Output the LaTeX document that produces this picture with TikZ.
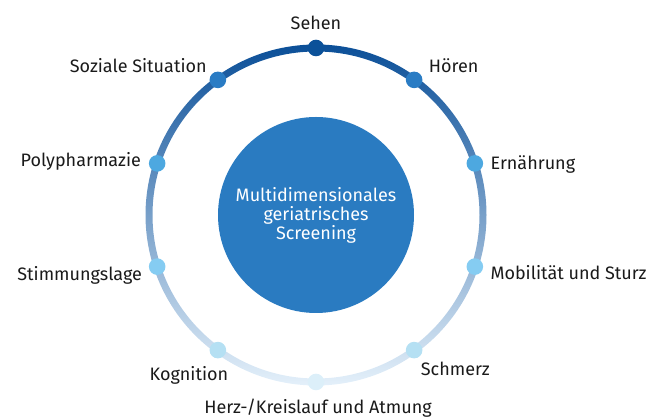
\documentclass[tikz,border=0pt]{standalone}
\usepackage{fontspec}
\setmainfont{Fira Sans}
\usetikzlibrary{positioning}
\definecolor{ringtop}{HTML}{0B4F98}
\definecolor{ringmid}{HTML}{7291C7}
\definecolor{ringbot}{HTML}{E4F0FA}
\definecolor{corefill}{HTML}{2A7BC1}
\definecolor{dotA}{HTML}{0B5199}
\definecolor{dotB}{HTML}{2A7CC4}
\definecolor{dotC}{HTML}{4DA8E0}
\definecolor{dotD}{HTML}{85CCF2}
\definecolor{dotE}{HTML}{B5E0F3}
\definecolor{dotF}{HTML}{DCEFF9}
\definecolor{txt}{HTML}{1A1A1A}
\tikzset{n/.style={inner sep=0, minimum size=16.6pt, circle},
  lbl/.style={inner sep=0, text=txt, font=\fontsize{18}{21}\selectfont}}

\begin{document}
\begin{tikzpicture}[x=1pt,y=1pt]
    \useasboundingbox (0,0) rectangle (651,419);
    \coordinate (M) at (316,204);

    \node[circle, fill=corefill, minimum size=196pt, inner sep=0, text=white,
      align=center, font=\fontsize{18}{19}\selectfont] (core) at (M)
      {Multidimensionales\\geriatrisches\\Screening};

    % ring with gradient from top to bottom
    \shade[top color=ringtop, middle color=ringmid, bottom color=ringbot, even odd rule]
      (M) circle (170.5) (M) circle (163.5);

    \foreach \a/\c/\name/\la/\an/\dx/\dy/\t in {
      90/dotA/S0/90/base/0/10/Sehen,
      54/dotB/S1/0/base west/6/7/Hören,
      18/dotC/S2/0/base west/7/-6/Ernährung,
      -18/dotD/S3/0/base west/7/-13/Mobilität und Sturz,
      -54/dotE/S4/0/base west/-2/-25/Schmerz,
      -90/dotF/S5/270/base/2/-23.5/{Herz-/Kreislauf und Atmung},
      234/dotE/S6/180/base east/19/-30/Kognition,
      198/dotD/S7/180/base east/-6.5/-14/Stimmungslage,
      162/dotC/S8/180/base east/-7.5/-3/Polypharmazie,
      126/dotB/S9/180/base east/-2.5/7/Soziale Situation}
    {
      \node[n, fill=\c, label={[lbl,anchor=\an,xshift=\dx pt,yshift=\dy pt]\la:\t}]
        (\name) at ([shift={(\a:167)}]M) {};
    }
\end{tikzpicture}
\end{document}
